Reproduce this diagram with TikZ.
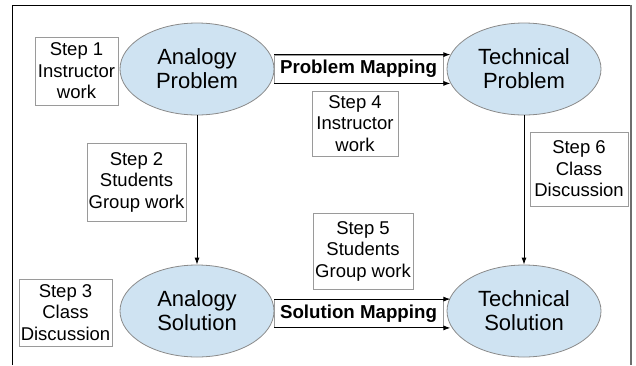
\documentclass[tikz,border=0pt]{standalone}
\usepackage{fontspec}
\setmainfont{Liberation Sans}
\usetikzlibrary{shapes.geometric,arrows.meta}
\definecolor{ellfill}{HTML}{CFE3F2}
\definecolor{ellline}{HTML}{8A8A8A}
\definecolor{boxline}{HTML}{9A9A9A}
\definecolor{frameright}{HTML}{6E6E6E}
\tikzset{
  stage/.style={ellipse, draw=ellline, fill=ellfill, line width=0.8pt, minimum width=154pt, minimum height=92pt, inner sep=0pt, align=center, font=\fontsize{22}{24}\selectfont},
  stepbox/.style={draw=boxline, fill=white, line width=0.8pt, inner sep=0pt, align=center, font=\fontsize{18.5}{21.5}\selectfont},
  maplabel/.style={draw=boxline, fill=white, line width=0.8pt, inner sep=0pt, minimum width=169pt, minimum height=28pt, font=\fontsize{18.7}{20}\selectfont\bfseries},
  conn/.style={line width=0.9pt, -{Latex[length=7pt,width=5pt]}},
}
\begin{document}
\begin{tikzpicture}[x=1pt,y=-1pt]
\useasboundingbox (0,0) rectangle (636,365);
\draw[line width=1pt] (12,365) -- (12,5) -- (631,5);
\draw[line width=1.3pt, frameright] (631,5) -- (631,365);
% ellipses
\node[stage] (AP) at (197,69) {Analogy\\Problem};
\node[stage] (TP) at (524,69) {Technical\\Problem};
\node[stage] (AS) at (197,311) {Analogy\\Solution};
\node[stage] (TS) at (524,311) {Technical\\Solution};
% step boxes
\node[stepbox, minimum width=83pt, minimum height=68pt] (S1) at (76.5,71) {Step 1\\Instructor\\work};
\node[stepbox, minimum width=99pt, minimum height=78pt] (S2) at (136.5,182) {Step 2\\Students\\Group work};
\node[stepbox, minimum width=93pt, minimum height=67pt] (S3) at (65.5,312.5) {Step 3\\Class\\Discussion};
\node[stepbox, minimum width=86pt, minimum height=65pt] (S4) at (355,123.5) {Step 4\\Instructor\\work};
\node[stepbox, minimum width=100pt, minimum height=76pt] (S5) at (363,251) {Step 5\\Students\\Group work};
\node[stepbox, minimum width=98pt, minimum height=74pt] (S6) at (579,169) {Step 6\\Class\\Discussion};
% mapping labels
\node[maplabel] (PM) at (358.5,69) {Problem Mapping};
\node[maplabel] (SM) at (358.5,313.5) {Solution Mapping};
% mapping arrows
\draw[conn] (PM.north west -| AP.east) -- ([xshift=7pt]PM.north east);
\draw[conn] (PM.south west -| AP.east) -- ([xshift=7pt]PM.south east);
\draw[conn] (SM.north west -| AS.east) -- ([xshift=7pt]SM.north east);
\draw[conn] (SM.south west -| AS.east) -- ([xshift=7pt]SM.south east);
% vertical arrows
\draw[conn] (AP.south) -- (AS.north);
\draw[conn] (TP.south) -- (TS.north);
\end{tikzpicture}
\end{document}
